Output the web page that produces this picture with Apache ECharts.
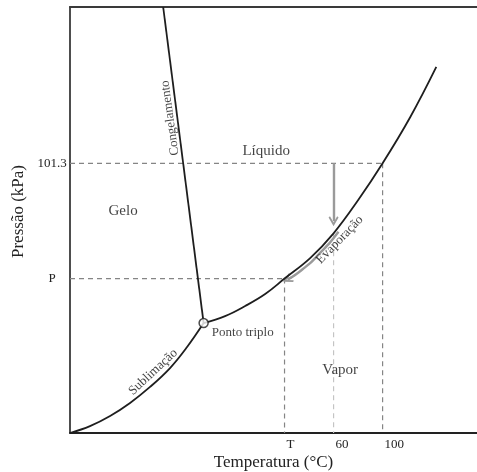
<!DOCTYPE html>
<html>
<head>
<meta charset="utf-8">
<script src="https://cdn.jsdelivr.net/npm/echarts@6/dist/echarts.min.js"></script>
<style>
  html, body { margin: 0; padding: 0; background: #fff; }
  #chart { width: 477px; height: 472px; }
</style>
</head>
<body>
<div id="chart"></div>
<script>
// Schematic phase diagram of water: x = temperature (°C), y = pressure (kPa)
const sublimationCurve = [[-155, 0], [-138.7, 2.6], [-122.3, 6.4], [-106, 11.3], [-89.7, 17.3], [-73.4, 24.4], [-59.5, 32.3], [-46, 41.3]];
const evaporationCurve = [[-46, 41.3], [-28.5, 43.9], [-12.1, 47.7], [4.2, 52.2], [20, 58], [40.9, 65.7], [60, 75], [80.1, 87.5], [100, 101.3], [122.6, 118.7], [143.8, 137.5]];
const freezingLine = [[-46, 41.3], [-79, 160]];
const triplePoint = [-46, 41.3];

const xTickValues = [20, 60, 100];
const xTickLabels = ['T', '60', '100'];
const yTickValues = [58, 101.3];
const yTickLabels = ['P', '101.3'];

// Dashed reading guides
const boilingGuideH = [[-155, 101.3], [100, 101.3]];
const boilingGuideV = [[100, 101.3], [100, 0]];
const pressureGuideH = [[-155, 58], [20, 58]];
const tempGuideV = [[20, 58], [20, 0]];
const guide60 = [[60, 75], [60, 0]];

// Grey arrows: pressure drop at 60 °C, then along the vapour-pressure curve
const pressureDropArrow = [[60, 101.3], [60, 79.5]];
const evaporationArrow = [[64, 75.6], [57, 71.5], [50, 68.1], [45, 65.7], [40.9, 63.8], [35, 61.6], [30, 59.8], [25.5, 58.4], [22.5, 57.7]];

// Region and curve captions: [temperature, pressure, text]
const regionNames = [[5, 106, 'Líquido'], [-111.7, 83.4, 'Gelo'], [65.4, 23.7, 'Vapor']];
const curveNames = [
  [-73.4, 118.3, 'Congelamento', 97.8],
  [-87.2, 22.9, 'Sublimação', 43],
  [65, 72.6, 'Evaporação', 46]
];

const SERIF = '"Liberation Serif", "DejaVu Serif", "Times New Roman", serif';
const INK = '#1e1e1e';
const AXIS = '#3a3a3a';
const ARROW_GREY = '#9a9a9a';
const chevron = 'path://M5,0 L10,7.6 L8.6,8.6 L5,3.2 L1.4,8.6 L0,7.6 Z';

function pick(values, labels, v) {
  const i = values.findIndex(x => Math.abs(x - v) < 1e-6);
  return i >= 0 ? labels[i] : '';
}

function dashed(data, color) {
  return {
    type: 'line', data: data, showSymbol: false, silent: true, z: 1,
    lineStyle: { color: color || '#858585', width: 1.2, type: [5, 4] }
  };
}

const arrowTail = evaporationArrow.slice(-2);

const chart = echarts.init(document.getElementById('chart'), null, { renderer: 'canvas' });

chart.setOption({
  animation: false,
  backgroundColor: '#ffffff',
  textStyle: { fontFamily: SERIF },
  grid: { left: 70, right: 0, top: 7, bottom: 39, containLabel: false, outerBoundsMode: 'none' },
  xAxis: [{
    type: 'value', min: -155, max: 177,
    axisLine: { show: true, onZero: false, lineStyle: { color: '#222', width: 1.8 } },
    axisTick: { show: false },
    splitLine: { show: false },
    axisLabel: {
      customValues: xTickValues,
      formatter: v => pick(xTickValues, xTickLabels, v),
      align: 'left', margin: 5, padding: [0, 0, 0, 2],
      fontFamily: SERIF, fontSize: 13, color: '#222'
    },
    name: 'Temperatura (°C)', nameLocation: 'middle', nameGap: 21, nameMoveOverlap: false,
    nameTextStyle: { fontFamily: SERIF, fontSize: 17, color: '#222' }
  }, {
    type: 'value', position: 'top', min: -155, max: 177,
    axisLine: { show: true, onZero: false, lineStyle: { color: AXIS, width: 1.8 } },
    axisTick: { show: false }, axisLabel: { show: false }, splitLine: { show: false }
  }],
  yAxis: {
    type: 'value', min: 0, max: 160,
    axisLine: { show: true, onZero: false, lineStyle: { color: AXIS, width: 1.8 } },
    axisTick: { show: false },
    splitLine: { show: false },
    axisLabel: {
      customValues: yTickValues,
      formatter: v => pick(yTickValues, yTickLabels, v),
      align: 'center', margin: 18,
      fontFamily: SERIF, fontSize: 13, color: '#222'
    },
    name: 'Pressão (kPa)', nameLocation: 'middle', nameGap: 43, nameRotate: 90, nameMoveOverlap: false,
    nameTextStyle: { fontFamily: SERIF, fontSize: 17, color: '#222', padding: [0, 0, 0, 17] }
  },
  series: [
    dashed(boilingGuideH),
    dashed(boilingGuideV),
    dashed(pressureGuideH),
    dashed(tempGuideV),
    dashed(guide60, '#c4c4c4'),
    {
      type: 'line', data: evaporationArrow, smooth: 0.3, showSymbol: false, silent: true, z: 2,
      lineStyle: { color: ARROW_GREY, width: 2.4 }
    },
    {
      type: 'lines', coordinateSystem: 'cartesian2d', silent: true, z: 2,
      symbol: ['none', chevron], symbolSize: 10,
      lineStyle: { color: ARROW_GREY, width: 2.4, opacity: 1, curveness: 0 },
      data: [{ coords: pressureDropArrow }, { coords: arrowTail }]
    },
    {
      type: 'line', data: sublimationCurve, smooth: 0.4, showSymbol: false, silent: true, z: 3,
      lineStyle: { color: INK, width: 1.8 }
    },
    {
      type: 'line', data: evaporationCurve, smooth: 0.4, showSymbol: false, silent: true, z: 3,
      lineStyle: { color: INK, width: 1.8 }
    },
    {
      type: 'line', data: freezingLine, showSymbol: false, silent: true, z: 3,
      lineStyle: { color: INK, width: 1.8 }
    },
    {
      type: 'scatter', data: [triplePoint], symbol: 'circle', symbolSize: 9, silent: true, z: 6,
      itemStyle: { color: '#fff', borderColor: INK, borderWidth: 1.5 },
      label: {
        show: true, position: 'right', distance: 3, offset: [0, 10],
        formatter: 'Ponto triplo', fontFamily: SERIF, fontSize: 13, color: '#111'
      }
    },
    {
      type: 'scatter', symbolSize: 0, silent: true, z: 5,
      data: regionNames.map(r => ({ value: [r[0], r[1]], name: r[2] })),
      label: { show: true, position: 'inside', formatter: '{b}', fontFamily: SERIF, fontSize: 15, color: '#111' }
    },
    {
      type: 'scatter', symbolSize: 0, silent: true, z: 5,
      data: curveNames.map(r => ({ value: [r[0], r[1]], name: r[2], label: { rotate: r[3] } })),
      label: { show: true, position: 'inside', formatter: '{b}', fontFamily: SERIF, fontSize: 13, color: '#111' }
    }
  ]
});
</script>
</body>
</html>
